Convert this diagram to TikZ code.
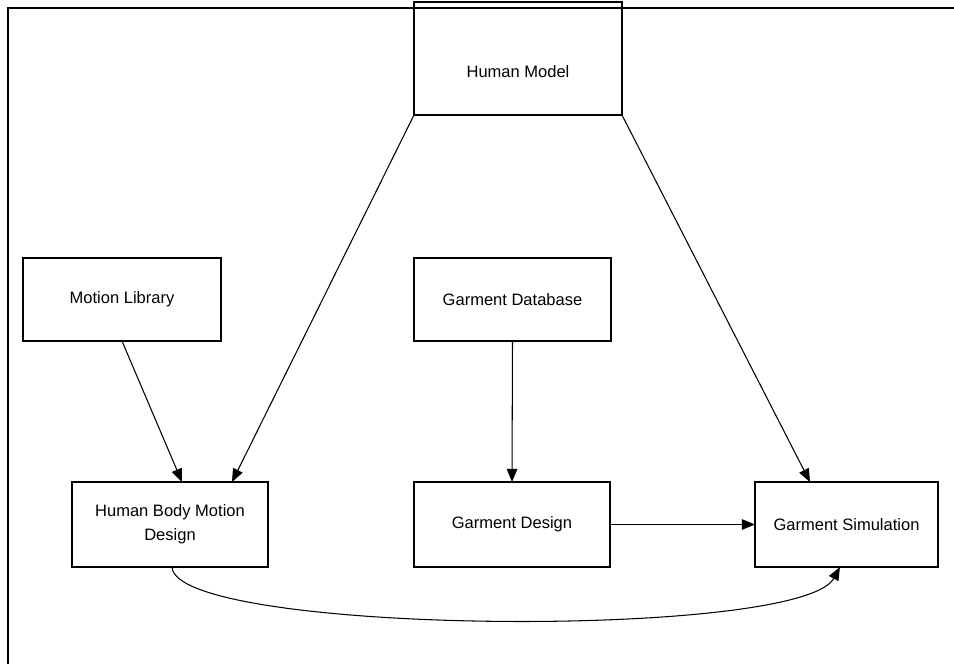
\documentclass[tikz,border=0pt]{standalone}
\usepackage{fontspec}
\setmainfont{Liberation Sans}
\usepackage{tikz}
\usetikzlibrary{positioning, calc, arrows.meta}
\tikzset{
  block/.style={draw, rectangle, line width=0.6pt, inner sep=0pt, outer sep=0pt,
    align=center, font=\fontsize{9.4}{13.6}\selectfont},
  flow/.style={line width=0.6pt, -{Triangle[length=7.5pt,width=6pt]}}
}

\begin{document}
\begin{tikzpicture}[x=0.02cm, y=-0.02cm, line width=0.6pt]

    \useasboundingbox (0,0) rectangle (954,664);

    % Frame
    \draw[line width=0.8pt] (8,664) -- (8,8) -- (954,8);

    % Blocks
    \node[block, minimum width=4.16cm, minimum height=2.26cm,
          label={[name=hmtext, yshift=-0.27cm, font=\fontsize{9.4}{13.6}\selectfont]center:Human Model}] (hm) at (518,58.5) {};
    \node[block, minimum width=3.96cm, minimum height=1.66cm] (ml) at (122,299.5) {Motion Library};
    \node[block, minimum width=3.94cm, minimum height=1.66cm] (gdb) at (512.5,299.5) {Garment Database};
    \node[block, minimum width=3.92cm, minimum height=1.70cm] (hbmd) at (170,524.5) {Human Body Motion\\Design};
    \node[block, minimum width=3.92cm, minimum height=1.70cm] (gd) at (512,524.5) {Garment Design};
    \node[block, minimum width=3.66cm, minimum height=1.70cm] (gs) at (846.5,524.5) {Garment Simulation};

    % Arrows
    \draw[flow] (ml.south) -- ($(hbmd.north)+(12,0)$);
    \draw[flow] (hm.south west) -- ($(hbmd.north)+(62,0)$);
    \draw[flow] (hm.south east) -- ($(gs.north)+(-36.5,0)$);
    \draw[flow] (gdb.south) -- (gd.north);
    \draw[flow] (gd.east) -- (gs.west);
    \draw[flow] ($(hbmd.south)+(2,0)$) .. controls +(3,68) and +(-40,73) .. ($(gs.south)+(-6.5,0)$);

\end{tikzpicture}
\end{document}
